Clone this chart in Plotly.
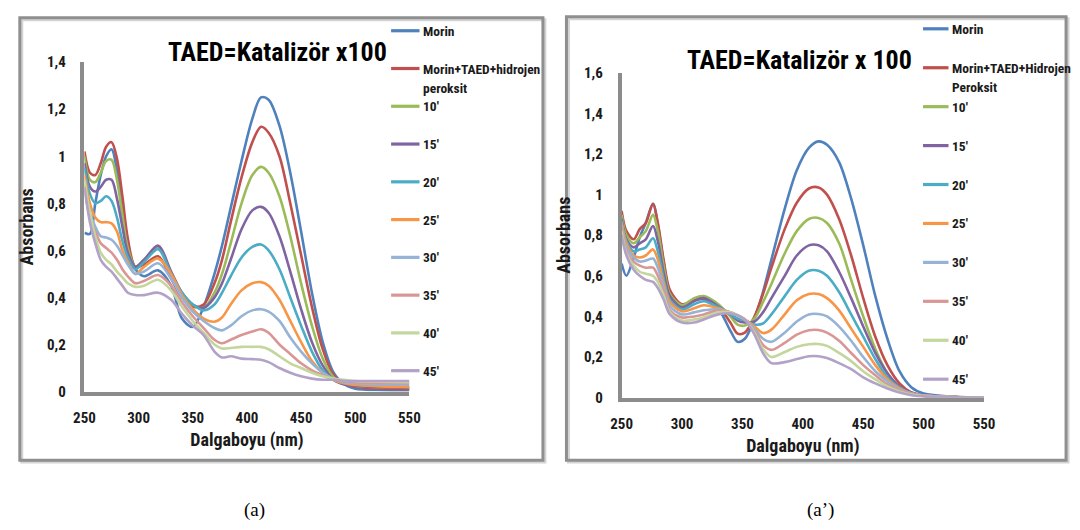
import plotly.graph_objects as go

# ---------------- data ----------------
# Panel (a): TAED = Katalizör x100
WL_A = [250, 255, 260, 265, 270, 275, 280, 285, 290, 297, 305, 318, 330, 340, 350, 360,
        370, 377, 385, 395, 405, 413, 420, 430, 440, 450, 460, 470, 480, 490, 500, 525, 550]

A_MORIN = [0.675, 0.67, 0.80, 0.92, 1.00, 1.03, 0.94, 0.76, 0.62, 0.52, 0.49, 0.515, 0.45, 0.31, 0.275, 0.36,
           0.50, 0.62, 0.78, 0.98, 1.16, 1.25, 1.24, 1.13, 0.93, 0.68, 0.42, 0.21, 0.08, 0.03, 0.012, 0.006, 0.005]
A_MIX = [1.02, 0.93, 0.92, 0.97, 1.04, 1.06, 0.99, 0.83, 0.65, 0.53, 0.54, 0.575, 0.48, 0.40, 0.36, 0.37,
         0.46, 0.56, 0.72, 0.91, 1.06, 1.125, 1.10, 1.00, 0.80, 0.58, 0.36, 0.18, 0.07, 0.035, 0.02, 0.012, 0.01]
A_10 = [1.00, 0.90, 0.89, 0.93, 0.98, 0.985, 0.90, 0.75, 0.61, 0.53, 0.56, 0.61, 0.50, 0.42, 0.37, 0.355,
        0.42, 0.50, 0.63, 0.80, 0.92, 0.955, 0.93, 0.83, 0.66, 0.46, 0.28, 0.14, 0.06, 0.035, 0.025, 0.018, 0.015]
A_15 = [0.97, 0.87, 0.85, 0.87, 0.90, 0.90, 0.82, 0.70, 0.59, 0.53, 0.56, 0.62, 0.51, 0.42, 0.37, 0.355,
        0.40, 0.46, 0.56, 0.69, 0.77, 0.785, 0.76, 0.66, 0.51, 0.35, 0.21, 0.11, 0.05, 0.03, 0.025, 0.018, 0.015]
A_20 = [0.95, 0.84, 0.80, 0.81, 0.83, 0.81, 0.74, 0.64, 0.57, 0.52, 0.55, 0.605, 0.50, 0.42, 0.37, 0.345,
        0.37, 0.42, 0.49, 0.57, 0.615, 0.625, 0.60, 0.52, 0.40, 0.28, 0.17, 0.09, 0.05, 0.035, 0.03, 0.022, 0.02]
A_25 = [0.92, 0.80, 0.74, 0.72, 0.72, 0.715, 0.68, 0.60, 0.55, 0.50, 0.53, 0.565, 0.50, 0.41, 0.35, 0.31,
        0.297, 0.315, 0.37, 0.43, 0.46, 0.465, 0.45, 0.39, 0.30, 0.21, 0.13, 0.08, 0.05, 0.035, 0.028, 0.022, 0.02]
A_30 = [0.88, 0.76, 0.70, 0.66, 0.655, 0.645, 0.62, 0.58, 0.54, 0.50, 0.51, 0.545, 0.48, 0.40, 0.34, 0.30,
        0.27, 0.26, 0.28, 0.32, 0.345, 0.35, 0.34, 0.30, 0.23, 0.17, 0.12, 0.08, 0.055, 0.04, 0.035, 0.03, 0.03]
A_35 = [0.86, 0.74, 0.68, 0.63, 0.61, 0.59, 0.56, 0.52, 0.49, 0.46, 0.47, 0.495, 0.45, 0.38, 0.32, 0.27,
        0.22, 0.205, 0.22, 0.24, 0.255, 0.265, 0.25, 0.20, 0.16, 0.12, 0.09, 0.07, 0.05, 0.045, 0.04, 0.037, 0.035]
A_40 = [0.90, 0.76, 0.66, 0.59, 0.56, 0.54, 0.51, 0.485, 0.46, 0.445, 0.45, 0.475, 0.43, 0.36, 0.30, 0.25,
        0.20, 0.183, 0.185, 0.19, 0.19, 0.19, 0.18, 0.15, 0.12, 0.10, 0.08, 0.065, 0.055, 0.05, 0.045, 0.042, 0.04]
A_45 = [0.87, 0.72, 0.63, 0.56, 0.53, 0.51, 0.48, 0.45, 0.42, 0.41, 0.41, 0.42, 0.39, 0.33, 0.28, 0.24,
        0.17, 0.145, 0.15, 0.14, 0.138, 0.135, 0.125, 0.10, 0.08, 0.065, 0.055, 0.05, 0.05, 0.045, 0.045, 0.045, 0.045]

# Panel (a'): TAED = Katalizör x 100
WL_B = [250, 254, 260, 265, 270, 276, 280, 285, 290, 300, 310, 318, 330, 340, 346, 352,
        360, 367, 374, 385, 395, 405, 413, 420, 430, 440, 450, 460, 470, 480, 490, 500, 525, 550]

B_MORIN = [0.66, 0.60, 0.69, 0.79, 0.86, 0.955, 0.85, 0.66, 0.52, 0.45, 0.48, 0.495, 0.44, 0.33, 0.275, 0.29,
           0.39, 0.52, 0.68, 0.93, 1.12, 1.23, 1.262, 1.245, 1.16, 0.98, 0.75, 0.50, 0.29, 0.13, 0.05, 0.02, 0.004, 0.0]
B_MIX = [0.92, 0.82, 0.78, 0.83, 0.86, 0.955, 0.86, 0.67, 0.53, 0.46, 0.48, 0.485, 0.45, 0.37, 0.315, 0.32,
         0.40, 0.51, 0.64, 0.83, 0.96, 1.03, 1.035, 1.00, 0.88, 0.70, 0.49, 0.30, 0.16, 0.07, 0.025, 0.01, 0.003, 0.0]
B_10 = [0.90, 0.80, 0.76, 0.79, 0.82, 0.90, 0.82, 0.64, 0.51, 0.455, 0.49, 0.50, 0.46, 0.40, 0.36, 0.355,
        0.39, 0.47, 0.56, 0.71, 0.82, 0.88, 0.885, 0.86, 0.76, 0.58, 0.40, 0.24, 0.12, 0.05, 0.02, 0.008, 0.003, 0.0]
B_15 = [0.88, 0.78, 0.74, 0.76, 0.78, 0.845, 0.77, 0.61, 0.50, 0.445, 0.475, 0.49, 0.45, 0.41, 0.38, 0.37,
        0.375, 0.42, 0.49, 0.60, 0.70, 0.75, 0.75, 0.72, 0.62, 0.49, 0.35, 0.22, 0.12, 0.055, 0.025, 0.01, 0.003, 0.0]
B_20 = [0.87, 0.77, 0.72, 0.73, 0.74, 0.785, 0.72, 0.58, 0.48, 0.435, 0.46, 0.475, 0.445, 0.41, 0.39, 0.38,
        0.36, 0.365, 0.41, 0.50, 0.58, 0.625, 0.625, 0.60, 0.52, 0.41, 0.30, 0.19, 0.10, 0.05, 0.02, 0.01, 0.003, 0.0]
B_25 = [0.86, 0.76, 0.70, 0.69, 0.70, 0.73, 0.68, 0.56, 0.47, 0.425, 0.44, 0.455, 0.44, 0.42, 0.405, 0.385,
        0.35, 0.318, 0.335, 0.41, 0.48, 0.51, 0.51, 0.49, 0.43, 0.34, 0.25, 0.16, 0.09, 0.045, 0.02, 0.01, 0.003, 0.0]
B_30 = [0.85, 0.74, 0.69, 0.67, 0.675, 0.685, 0.64, 0.54, 0.45, 0.41, 0.42, 0.43, 0.435, 0.42, 0.405, 0.385,
        0.34, 0.29, 0.275, 0.32, 0.375, 0.41, 0.412, 0.40, 0.35, 0.28, 0.20, 0.13, 0.08, 0.04, 0.02, 0.01, 0.003, 0.0]
B_35 = [0.84, 0.72, 0.67, 0.65, 0.64, 0.64, 0.60, 0.52, 0.43, 0.395, 0.40, 0.41, 0.43, 0.42, 0.405, 0.385,
        0.33, 0.26, 0.235, 0.27, 0.31, 0.332, 0.333, 0.32, 0.28, 0.22, 0.16, 0.11, 0.065, 0.035, 0.018, 0.01, 0.003, 0.0]
B_40 = [0.82, 0.71, 0.65, 0.62, 0.61, 0.60, 0.57, 0.50, 0.42, 0.38, 0.385, 0.395, 0.42, 0.42, 0.405, 0.385,
        0.32, 0.24, 0.20, 0.225, 0.25, 0.263, 0.264, 0.255, 0.22, 0.18, 0.13, 0.09, 0.055, 0.03, 0.015, 0.008, 0.002, 0.0]
B_45 = [0.80, 0.70, 0.63, 0.60, 0.58, 0.57, 0.54, 0.48, 0.41, 0.37, 0.37, 0.385, 0.41, 0.415, 0.405, 0.385,
        0.31, 0.22, 0.17, 0.175, 0.19, 0.204, 0.204, 0.195, 0.17, 0.14, 0.10, 0.07, 0.045, 0.025, 0.012, 0.006, 0.002, 0.0]

NAMES_A = ["Morin", "Morin+TAED+hidrojen<br>peroksit", "10′", "15′", "20′", "25′", "30′", "35′", "40′", "45′"]
NAMES_B = ["Morin", "Morin+TAED+Hidrojen<br>Peroksit", "10′", "15′", "20′", "25′", "30′", "35′", "40′", "45′"]
SERIES_A = [A_MORIN, A_MIX, A_10, A_15, A_20, A_25, A_30, A_35, A_40, A_45]
SERIES_B = [B_MORIN, B_MIX, B_10, B_15, B_20, B_25, B_30, B_35, B_40, B_45]

X_TICKS = [250, 300, 350, 400, 450, 500, 550]
Y_TICKS_A = [0, 0.2, 0.4, 0.6, 0.8, 1.0, 1.2, 1.4]
Y_TICKS_B = [0, 0.2, 0.4, 0.6, 0.8, 1.0, 1.2, 1.4, 1.6]
TITLE_A = "TAED=Katalizör x100"
TITLE_B = "TAED=Katalizör x 100"
CAPTION_A = "(a)"
CAPTION_B = "(a’)"

# ---------------- style ----------------
COLORS = ["#4F81BD", "#C0504D", "#9BBB59", "#8064A2", "#4BACC6",
          "#F79646", "#95B3D7", "#D99694", "#C3D69B", "#B3A2C7"]
FONT = "Liberation Sans Narrow, Arial Narrow, Roboto Condensed, Roboto, sans-serif"
W, H = 1080, 530
AXIS_GRAY = "#8c8c8c"


def px(x):
    return x / W


def py(y):
    return 1 - y / H


def comma(v):
    return f"{v:g}".replace(".", ",")


fig = go.Figure()

for names, series, wl, xa, ya in [(NAMES_A, SERIES_A, WL_A, "x", "y"),
                                   (NAMES_B, SERIES_B, WL_B, "x2", "y2")]:
    for name, vals, col in zip(names, series, COLORS):
        fig.add_trace(go.Scatter(
            x=wl, y=vals, name=name.replace("<br>", " "), mode="lines",
            line=dict(color=col, width=2.6, shape="spline", smoothing=0.9),
            xaxis=xa, yaxis=ya, showlegend=False, hoverinfo="skip"))

tick_font = dict(family=FONT, size=15, color="#1a1a1a")
title_font = dict(family=FONT, size=18, color="#1a1a1a")


def xaxis(domain, anchor):
    return dict(domain=domain, anchor=anchor, range=[250, 550], tickvals=X_TICKS,
                ticktext=[f"<b>{t}</b>" for t in X_TICKS], showgrid=False, zeroline=False,
                showline=True, linecolor=AXIS_GRAY, linewidth=3.5, ticks="",
                ticklabelstandoff=10, tickfont=tick_font,
                title=dict(text="<b>Dalgaboyu (nm)</b>", font=title_font, standoff=8))


def yaxis(domain, anchor, top, ticks):
    return dict(domain=domain, anchor=anchor, range=[0, top], tickvals=ticks,
                ticktext=[f"<b>{comma(t)}</b>" for t in ticks], showgrid=False, zeroline=False,
                showline=True, linecolor=AXIS_GRAY, linewidth=3.5, ticks="",
                ticklabelstandoff=12, tickfont=tick_font,
                title=dict(text="<b>Absorbans</b>", font=title_font, standoff=10))


fig.update_layout(
    width=W, height=H, margin=dict(l=0, r=0, t=0, b=0),
    paper_bgcolor="white", plot_bgcolor="white", showlegend=False,
    xaxis=xaxis([px(75), px(406.7)], "y"),
    yaxis=yaxis([py(396), py(55)], "x", 1.4, Y_TICKS_A),
    xaxis2=xaxis([px(623.3), px(993.3)], "y2"),
    yaxis2=yaxis([py(402.3), py(66)], "x2", 1.6, Y_TICKS_B),
)

shapes = []
annotations = []

# panel frames with a soft shadow
for (x0, y0, x1, y1) in [(9, 9, 543, 467), (567, 8, 1077, 467)]:
    shapes.append(dict(type="rect", xref="paper", yref="paper",
                       x0=px(x0 + 2), y0=py(y1 + 2), x1=px(x1 + 2), y1=py(y0 + 2),
                       line=dict(color="#d4d4d4", width=3), layer="below"))
    shapes.append(dict(type="rect", xref="paper", yref="paper",
                       x0=px(x0), y0=py(y1), x1=px(x1), y1=py(y0),
                       line=dict(color="#8f8f8f", width=3), layer="below"))

# chart titles
annotations.append(dict(text=f"<b>{TITLE_A}</b>", x=px(272), y=py(45), xref="paper", yref="paper",
                        showarrow=False, xanchor="center", yanchor="middle",
                        font=dict(family=FONT, size=26, color="#000")))
annotations.append(dict(text=f"<b>{TITLE_B}</b>", x=px(805), y=py(53), xref="paper", yref="paper",
                        showarrow=False, xanchor="center", yanchor="middle",
                        font=dict(family=FONT, size=26, color="#000")))

# legends
for names, lx0, lx1, ty, gap in [(NAMES_A, 388, 417, 22.5, 39.1),
                                  (NAMES_B, 931, 957, 20.5, 40.3)]:
    for i, (name, col) in enumerate(zip(names, COLORS)):
        yc = ty + gap * i
        shapes.append(dict(type="line", xref="paper", yref="paper",
                           x0=px(lx0), x1=px(lx1), y0=py(yc), y1=py(yc),
                           line=dict(color=col, width=3.2)))
        for j, part in enumerate(name.split("<br>")):
            annotations.append(dict(text=f"<b>{part}</b>", x=px(lx1 + 2), y=py(yc + 20 * j),
                                    xref="paper", yref="paper", showarrow=False,
                                    xanchor="left", yanchor="middle",
                                    font=dict(family=FONT, size=13.5, color="#1a1a1a")))

# panel captions
for cap, cx in [(CAPTION_A, 249), (CAPTION_B, 826)]:
    annotations.append(dict(text=cap, x=px(cx), y=py(519), xref="paper", yref="paper",
                            showarrow=False, xanchor="center", yanchor="middle",
                            font=dict(family="Liberation Serif, Times New Roman, serif",
                                      size=19, color="#000")))

fig.update_layout(shapes=shapes, annotations=annotations)
fig.write_html("out.html", post_script="document.body.style.margin='0';")
